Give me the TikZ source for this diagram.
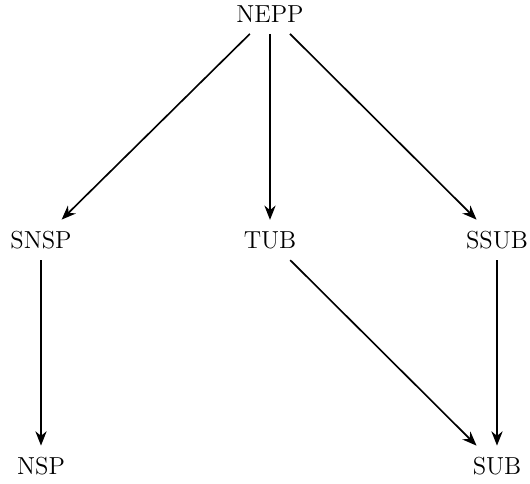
\documentclass[tikz,border=0pt]{standalone}
\usetikzlibrary{arrows.meta}
\begin{document}
\begin{tikzpicture}[x=0.4878pt,y=-0.4878pt,
  lbl/.style={inner sep=5.4pt,font=\fontsize{12}{14}\selectfont},
  arr/.style={-{Stealth[length=7pt,width=5.5pt]},thick}]
\useasboundingbox (0,0) rectangle (530,483);
\node[lbl] (nepp) at (270,14) {NEPP};
\node[lbl] (snsp) at (41,240) {SNSP};
\node[lbl] (tub)  at (270,240) {TUB};
\node[lbl] (ssub) at (497,240) {SSUB};
\node[lbl] (nsp)  at (41,466) {NSP};
\node[lbl] (sub)  at (497,466) {SUB};
\draw[arr] (nepp) -- (snsp);
\draw[arr] (nepp) -- (tub);
\draw[arr] (nepp) -- (ssub);
\draw[arr] (snsp) -- (nsp);
\draw[arr] (tub) -- (sub);
\draw[arr] (ssub) -- (sub);
\end{tikzpicture}
\end{document}
